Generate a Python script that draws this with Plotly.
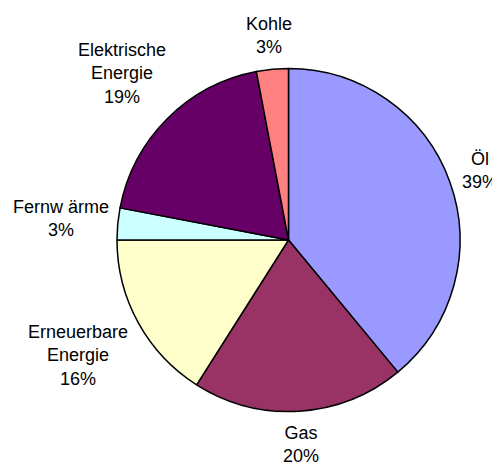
import math
import plotly.graph_objects as go

labels = ["Öl", "Gas", "Erneuerbare<br>Energie", "Fernw ärme", "Elektrische<br>Energie", "Kohle"]
values = [39, 20, 16, 3, 19, 3]
colors = ["#9999FF", "#993366", "#FFFFCC", "#CCFFFF", "#660066", "#FF8080"]

W, H = 500, 465
OFF = 8  # page body margin in the browser
CX, CY, R = 288.5 - OFF, 240.0 - OFF, 171.5
FS = 18
GAP = 7

# Arial-like character widths (em)
CW = {"Ö": .778, "l": .222, "G": .778, "a": .556, "s": .5, "E": .667, "r": .333, "n": .556,
      "e": .556, "u": .556, "b": .556, "F": .611, "w": .722, "ä": .556, "m": .833, "k": .5,
      "t": .278, "i": .222, "c": .5, "h": .556, "g": .556, "K": .667, "o": .556, "%": .889, " ": .278}


def text_w(s):
    return sum(CW.get(ch, .556) for ch in s) * FS


fig = go.Figure(go.Pie(
    values=values,
    labels=labels,
    marker=dict(colors=colors, line=dict(color="black", width=1.5)),
    sort=False,
    direction="clockwise",
    rotation=0,
    textinfo="none",
    hoverinfo="label+percent",
    domain=dict(x=[(CX - R) / W, (CX + R) / W], y=[1 - (CY + R) / H, 1 - (CY - R) / H]),
    showlegend=False,
))

total = sum(values)
cum = 0
annotations = []
for lab, v in zip(labels, values):
    mid = (cum + v / 2) / total
    cum += v
    ang = mid * 2 * math.pi
    sx, cy = math.sin(ang), math.cos(ang)
    pct = f"{round(v / total * 100)}%"
    lines = lab.split("<br>") + [pct]
    hw = max(text_w(l) for l in lines) / 2
    hh = len(lines) * 12.5
    d = R + GAP + hw * abs(sx) + hh * abs(cy)
    px = CX + d * sx
    py = CY - d * cy
    annotations.append(dict(
        x=px / W, y=1 - py / H, xref="paper", yref="paper",
        text=lab + "<br>" + pct, showarrow=False,
        xanchor="center", yanchor="middle", align="center",
        font=dict(family="Liberation Sans, Arial, sans-serif", size=FS, color="black"),
    ))

fig.update_layout(
    width=W, height=H,
    margin=dict(l=0, r=0, t=0, b=0),
    paper_bgcolor="white", plot_bgcolor="white",
    annotations=annotations,
)

fig.write_html("out.html")
